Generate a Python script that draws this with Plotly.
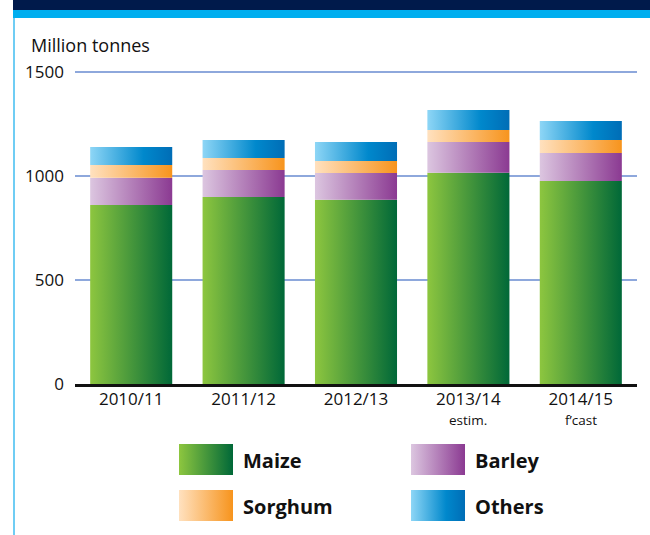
import plotly.graph_objects as go

# Global coarse grain use, million tonnes
seasons = ["2010/11", "2011/12", "2012/13", "2013/14", "2014/15"]
season_notes = ["", "", "", "estim.", "f\u2019cast"]
maize = [860, 899, 886, 1016, 976]
barley = [132, 130, 128, 147, 135]
sorghum = [61, 58, 58, 58, 62]
others = [86, 86, 91, 96, 91]
y_ticks = [0, 500, 1000, 1500]

series = [
    ("Maize", maize, [[0, "#8dc63f"], [1, "#006838"]]),
    ("Barley", barley, [[0, "#dcc6e0"], [1, "#8b3a92"]]),
    ("Sorghum", sorghum, [[0, "#ffe1bf"], [1, "#f7941d"]]),
    ("Others", others, [[0, "#8ed6f6"], [0.65, "#0088cc"], [1, "#006db6"]]),
]

W, H = 650, 535
FONT = "Open Sans"
half = 0.365  # half bar width in category units

# value axis: 0 sits at 384 px, 1500 at 72 px; a little headroom keeps the top gridline drawn
y_max = 1506
px_per_unit = (384 - 72) / 1500
y_top_px = 384 - y_max * px_per_unit

fig = go.Figure()

# stacked bars drawn as filled rectangles so each segment carries a left-to-right gradient
base = [0] * len(seasons)
for name, vals, cscale in series:
    for i, v in enumerate(vals):
        b = base[i]
        fig.add_trace(go.Scatter(
            x=[i - half, i + half, i + half, i - half, i - half],
            y=[b, b, b + v, b + v, b],
            mode="lines", fill="toself",
            line=dict(width=0, color="rgba(0,0,0,0)"),
            fillgradient=dict(type="horizontal", colorscale=cscale),
            name=name, showlegend=False,
            hoverinfo="text", text=f"{name} {seasons[i]}: {v}",
            hoveron="fills",
        ))
        base[i] = b + v

# legend swatches on a pixel-scaled overlay axis
legend_pos = [
    ("Maize", 179, 444),
    ("Barley", 411, 444),
    ("Sorghum", 179, 490),
    ("Others", 411, 490),
]
sw_w, sw_h = 54, 31
cmap = {n: c for n, _, c in series}
for name, lx, ly in legend_pos:
    fig.add_trace(go.Scatter(
        x=[lx, lx + sw_w, lx + sw_w, lx, lx],
        y=[ly, ly, ly + sw_h, ly + sw_h, ly],
        xaxis="x2", yaxis="y2",
        mode="lines", fill="toself",
        line=dict(width=0, color="rgba(0,0,0,0)"),
        fillgradient=dict(type="horizontal", colorscale=cmap[name]),
        showlegend=False, hoverinfo="skip",
    ))

annotations = [
    dict(text="Million tonnes", x=29 / W, y=1 - 45 / H, xref="paper", yref="paper",
         xanchor="left", yanchor="middle", showarrow=False,
         font=dict(family=FONT, size=18, color="#111")),
]
for name, lx, ly in legend_pos:
    annotations.append(dict(
        text=f"<b>{name}</b>", x=(lx + sw_w + 8) / W, y=1 - (ly + sw_h / 2 + 1) / H,
        xref="paper", yref="paper", xanchor="left", yanchor="middle", showarrow=False,
        font=dict(family=FONT, size=20, color="#111"),
    ))
# small status notes under the season labels
for i, note in enumerate(season_notes):
    if note:
        annotations.append(dict(
            text=note, x=i, xref="x", y=1 - 420 / H, yref="paper",
            xanchor="center", yanchor="middle", showarrow=False,
            font=dict(family=FONT, size=13.5, color="#111"),
        ))

shapes = [
    # header bands
    dict(type="rect", xref="paper", yref="paper", x0=13 / W, x1=1,
         y0=1 - 10 / H, y1=1, fillcolor="#001a4b", line=dict(width=0), layer="above"),
    dict(type="rect", xref="paper", yref="paper", x0=13 / W, x1=1,
         y0=1 - 18 / H, y1=1 - 10 / H, fillcolor="#00aeef", line=dict(width=0), layer="above"),
    # left frame rule
    dict(type="line", xref="paper", yref="paper", x0=14 / W, x1=14 / W,
         y0=0, y1=1 - 18 / H, line=dict(color="#3fbdf0", width=1.5)),
]

fig.update_layout(
    width=W, height=H,
    margin=dict(l=0, r=0, t=0, b=0, autoexpand=False),
    paper_bgcolor="white", plot_bgcolor="rgba(0,0,0,0)",
    font=dict(family=FONT, size=17, color="#111"),
    showlegend=False,
    xaxis=dict(
        domain=[75 / W, 637 / W], range=[-0.5, 4.5],
        tickmode="array", tickvals=list(range(len(seasons))), ticktext=seasons,
        showgrid=False, zeroline=False,
        showline=True, linecolor="#111", linewidth=2.5,
        ticks="", ticklabelstandoff=-2,
        tickfont=dict(family=FONT, size=17, color="#111"),
        automargin=False, fixedrange=True,
    ),
    yaxis=dict(
        domain=[(H - 384) / H, (H - y_top_px) / H], range=[0, y_max],
        tickmode="array", tickvals=y_ticks,
        showgrid=True, gridcolor="#8ea8dc", gridwidth=1.6,
        zeroline=False, showline=False, ticks="",
        ticklabelstandoff=10,
        tickfont=dict(family=FONT, size=17, color="#111"),
        automargin=False, fixedrange=True,
    ),
    xaxis2=dict(domain=[0, 1], range=[0, W], visible=False, showticklabels=False,
                showgrid=False, zeroline=False, automargin=False, fixedrange=True),
    yaxis2=dict(domain=[0, 1], range=[H, 0], visible=False, showticklabels=False,
                showgrid=False, zeroline=False, automargin=False, fixedrange=True),
    annotations=annotations,
    shapes=shapes,
)

fig.write_html("out.html")
